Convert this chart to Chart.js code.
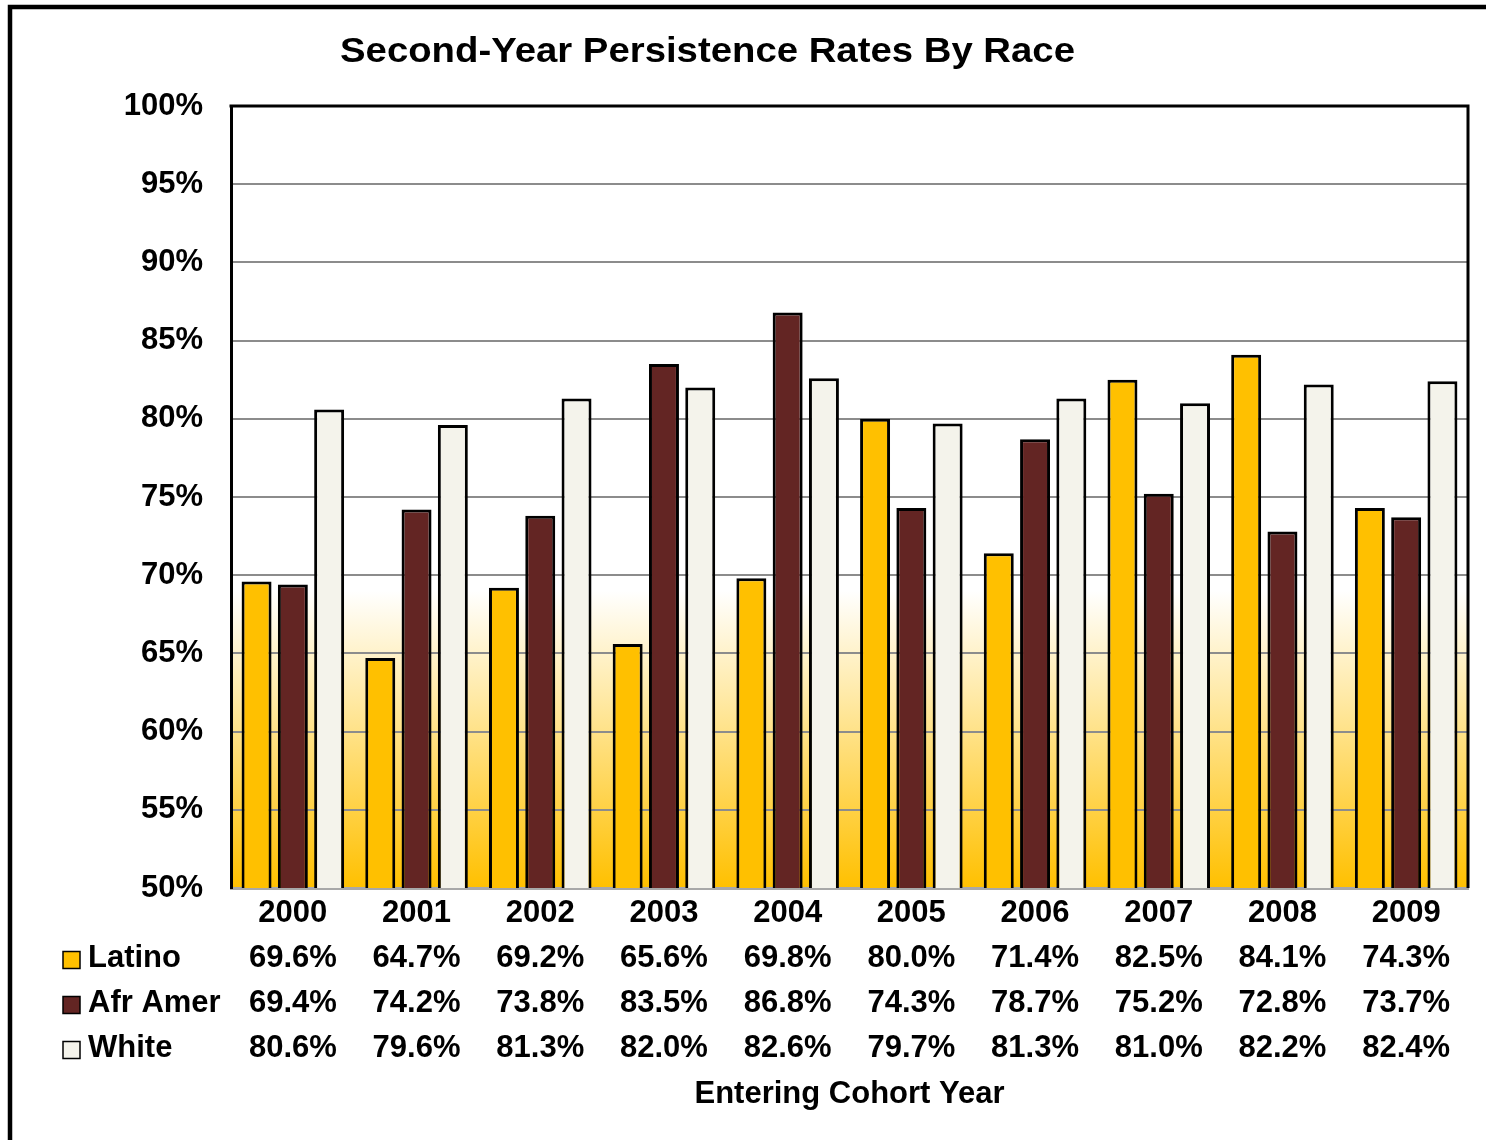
<!DOCTYPE html>
<html>
<head>
<meta charset="utf-8">
<script src="https://cdn.jsdelivr.net/npm/chart.js@4"></script>
<style>
html,body{margin:0;padding:0;background:#fff;}
#wrap{width:1486px;height:1140px;position:relative;}
canvas{display:block;}
</style>
</head>
<body>
<div id="wrap"><canvas id="c" width="1486" height="1140"></canvas></div>
<script>
// ---- data ----
const categories = ['2000','2001','2002','2003','2004','2005','2006','2007','2008','2009'];
const latino  = [69.6, 64.7, 69.2, 65.6, 69.8, 80.0, 71.4, 82.5, 84.1, 74.3];
const afrAmer = [69.4, 74.2, 73.8, 83.5, 86.8, 74.3, 78.7, 75.2, 72.8, 73.7];
const white   = [80.6, 79.6, 81.3, 82.0, 82.6, 79.7, 81.3, 81.0, 82.2, 82.4];
const seriesNames = ['Latino', 'Afr Amer', 'White'];
const yMin = 50, yMax = 100, yStep = 5;
const chartTitle = 'Second-Year Persistence Rates By Race';
const xAxisTitle = 'Entering Cohort Year';

// ---- styles ----
const FAMILY = '"Liberation Sans", Arial, Helvetica, sans-serif';
const seriesColors = ['#FFC000', '#632523', '#F4F3EB'];
const allSeries = [latino, afrAmer, white];
const ROW_H = 45;
const X_PAD = 3;
const fmt = v => v.toFixed(1) + '%';

Chart.defaults.font.family = FAMILY;
Chart.defaults.color = '#000';

const bgPlugin = {
  id: 'bg',
  beforeDraw(chart) {
    const {ctx, chartArea: a} = chart;
    ctx.save();
    ctx.fillStyle = '#fff';
    ctx.fillRect(0, 0, chart.width, chart.height);
    const y0 = chart.scales.y.getPixelForValue(69.0);
    const g = ctx.createLinearGradient(0, y0, 0, a.bottom);
    g.addColorStop(0, '#FFFFFF');
    g.addColorStop(0.35, '#FFEAA8');
    g.addColorStop(1, '#FFC000');
    ctx.fillStyle = '#fff';
    ctx.fillRect(a.left, a.top, a.right - a.left, a.bottom - a.top);
    ctx.fillStyle = g;
    ctx.fillRect(a.left, y0, a.right - a.left, a.bottom - y0);
    ctx.restore();
  }
};

const decoPlugin = {
  id: 'deco',
  afterDraw(chart) {
    const {ctx, chartArea: a} = chart;
    const xs = chart.scales.x;
    ctx.save();
    // plot frame top & right
    ctx.strokeStyle = '#000';
    ctx.lineWidth = 3;
    ctx.beginPath();
    ctx.moveTo(a.left - 1.5, a.top);
    ctx.lineTo(a.right, a.top);
    ctx.lineTo(a.right, a.bottom);
    ctx.stroke();
    // outer frame
    ctx.lineWidth = 4.5;
    ctx.strokeRect(10, 7, 1700, 1400);
    // title
    ctx.fillStyle = '#000';
    ctx.font = 'bold 35px ' + FAMILY;
    const w = ctx.measureText(chartTitle).width;
    ctx.translate(707.5, 62);
    ctx.scale(735 / w, 1);
    ctx.textAlign = 'center';
    ctx.textBaseline = 'alphabetic';
    ctx.fillText(chartTitle, 0, 0);
    ctx.setTransform(1, 0, 0, 1, 0, 0);
    // data-table legend keys
    ctx.font = 'bold 31px ' + FAMILY;
    ctx.textAlign = 'left';
    ctx.textBaseline = 'middle';
    seriesNames.forEach((name, i) => {
      const y = xs.top + X_PAD + ROW_H * (i + 1) + ROW_H / 2;
      ctx.fillStyle = seriesColors[i];
      ctx.fillRect(63, y - 7, 17, 17);
      ctx.strokeStyle = '#000';
      ctx.lineWidth = 1.5;
      ctx.strokeRect(63, y - 7, 17, 17);
      ctx.fillStyle = '#000';
      ctx.fillText(name, 88, y);
    });
    ctx.restore();
  }
};

new Chart(document.getElementById('c'), {
  type: 'bar',
  data: {
    labels: categories,
    datasets: seriesNames.map((name, i) => ({
      label: name,
      data: allSeries[i],
      backgroundColor: seriesColors[i],
      borderColor: '#000',
      borderWidth: 3,
      categoryPercentage: 0.88,
      barPercentage: 0.826
    }))
  },
  options: {
    responsive: false,
    devicePixelRatio: 1,
    animation: false,
    layout: { padding: { left: 0, top: 106, right: 18, bottom: 0 } },
    plugins: {
      legend: { display: false },
      title: { display: false },
      tooltip: { enabled: false }
    },
    scales: {
      x: {
        type: 'category',
        grid: { display: false, drawTicks: false },
        border: { display: true, color: '#a8a8a8', width: 3, dash: [3, 2] },
        ticks: {
          autoSkip: false,
          maxRotation: 0,
          minRotation: 0,
          padding: X_PAD,
          color: '#000',
          font: { size: 31, weight: 'bold', lineHeight: ROW_H / 31 },
          callback: (v, i) => [categories[i], fmt(latino[i]), fmt(afrAmer[i]), fmt(white[i])]
        },
        title: {
          display: true,
          text: xAxisTitle,
          color: '#000',
          font: { size: 31, weight: 'bold' },
          padding: { top: 0, bottom: 27 }
        },
        afterFit: s => { s.height = 252; }
      },
      y: {
        min: yMin,
        max: yMax,
        grid: { color: '#8c8c8c', lineWidth: 2, drawTicks: false },
        border: { display: true, color: '#000', width: 3 },
        ticks: {
          stepSize: yStep,
          padding: 28,
          color: '#000',
          font: { size: 31, weight: 'bold' },
          callback: v => v + '%'
        },
        afterFit: s => { s.width = 231; }
      }
    }
  },
  plugins: [bgPlugin, decoPlugin]
});
</script>
</body>
</html>
